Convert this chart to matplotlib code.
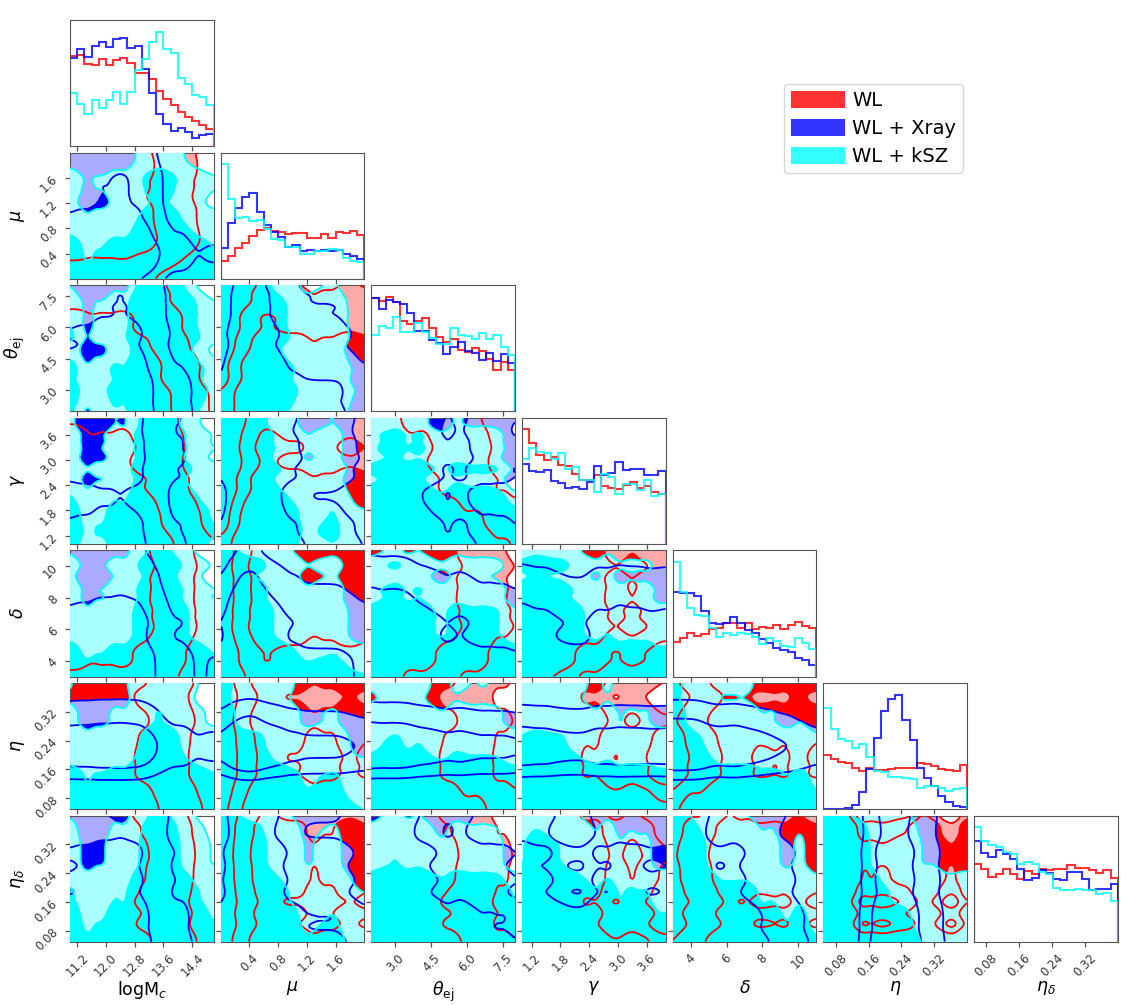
import numpy as np
import matplotlib
matplotlib.use("Agg")
import matplotlib.pyplot as plt
from matplotlib.patches import Patch

# ---------------- data ----------------
param_labels = [r'logM$_c$', r'$\mu$', r'$\theta_{\rm ej}$', r'$\gamma$',
                r'$\delta$', r'$\eta$', r'$\eta_\delta$']
param_ranges = [(11.0, 15.0), (0.0, 2.0), (2.0, 8.0), (1.0, 4.0),
                (3.0, 11.0), (0.05, 0.40), (0.05, 0.40)]
param_ticks = [[11.2, 12.0, 12.8, 13.6, 14.4],
               [0.4, 0.8, 1.2, 1.6],
               [3.0, 4.5, 6.0, 7.5],
               [1.2, 1.8, 2.4, 3.0, 3.6],
               [4, 6, 8, 10],
               [0.08, 0.16, 0.24, 0.32],
               [0.08, 0.16, 0.24, 0.32]]

dataset_names = ['WL', 'WL + Xray', 'WL + kSZ']

# marginal histograms (20 bins each, arbitrary units)
wl_hist = [
    [268, 270, 245, 240, 260, 240, 257, 263, 248, 218, 218, 200, 165, 140, 122, 100, 85, 75, 62, 50],
    [53, 68, 93, 108, 130, 146, 153, 143, 140, 136, 138, 138, 123, 123, 136, 123, 140, 138, 143, 133],
    [340, 332, 345, 328, 272, 262, 272, 280, 250, 225, 210, 218, 185, 178, 190, 182, 158, 125, 150, 125],
    [342, 302, 265, 250, 258, 235, 232, 208, 190, 190, 205, 172, 168, 165, 175, 185, 168, 172, 155, 150],
    [104, 117, 130, 122, 127, 142, 147, 160, 160, 145, 162, 144, 150, 147, 155, 142, 154, 164, 152, 147],
    [162, 150, 142, 137, 124, 114, 122, 117, 117, 119, 122, 122, 124, 137, 134, 130, 120, 117, 114, 132],
    [232, 217, 192, 200, 217, 200, 187, 209, 202, 217, 214, 216, 217, 227, 220, 220, 212, 204, 214, 189],
]
xray_hist = [
    [262, 287, 265, 298, 310, 295, 318, 322, 290, 298, 230, 158, 95, 65, 45, 55, 43, 25, 32, 35],
    [92, 168, 213, 246, 258, 200, 163, 140, 126, 95, 103, 83, 86, 83, 85, 83, 85, 73, 68, 58],
    [342, 308, 335, 328, 322, 295, 242, 242, 215, 205, 172, 195, 210, 182, 175, 155, 175, 153, 172, 145],
    [240, 218, 215, 222, 188, 182, 168, 170, 165, 185, 232, 205, 212, 245, 220, 223, 225, 207, 207, 218],
    [254, 252, 250, 242, 197, 160, 157, 160, 180, 160, 140, 130, 114, 102, 87, 80, 74, 57, 50, 36],
    [0, 0, 1, 3, 12, 52, 120, 214, 294, 332, 344, 267, 207, 122, 94, 70, 40, 20, 9, 6],
    [299, 262, 250, 272, 260, 244, 217, 182, 190, 214, 204, 187, 182, 207, 207, 185, 152, 157, 155, 170],
]
ksz_hist = [
    [158, 125, 95, 137, 112, 137, 162, 125, 160, 225, 260, 310, 340, 288, 275, 202, 185, 152, 145, 122],
    [345, 240, 183, 186, 173, 178, 151, 120, 116, 96, 96, 73, 73, 83, 83, 90, 88, 63, 53, 51],
    [230, 257, 252, 285, 238, 238, 265, 240, 220, 202, 202, 250, 230, 228, 218, 235, 218, 230, 195, 170],
    [252, 287, 275, 272, 252, 270, 225, 230, 190, 190, 155, 210, 200, 148, 180, 180, 162, 190, 142, 150],
    [344, 254, 207, 184, 182, 147, 120, 130, 124, 130, 127, 120, 99, 117, 107, 92, 90, 117, 100, 82],
    [304, 240, 210, 204, 182, 194, 157, 114, 110, 97, 97, 94, 89, 64, 70, 70, 62, 55, 60, 62],
    [340, 300, 287, 280, 267, 259, 232, 237, 232, 207, 202, 160, 154, 154, 155, 154, 152, 142, 144, 122],
]

# ---------------- style ----------------
line_colors = ['red', 'blue', 'cyan']
fill_colors = [['#ffaaaa', '#ff0000'], ['#aaaaff', '#0000ff'], ['#aaffff', '#00ffff']]
legend_colors = [(1, 0, 0, 0.8), (0, 0, 1, 0.8), (0, 1, 1, 0.8)]
hists = [wl_hist, xray_hist, ksz_hist]
spine_col = '#555555'
UPS = 4          # sub-cells per histogram bin for the 2-D density grid
SMOOTH = 3.0     # gaussian smoothing (in sub-cells) of the 2-D density

n = len(param_labels)
fig = plt.figure(figsize=(11.36, 10.05), dpi=100)
axes = fig.subplots(n, n)
fig.subplots_adjust(left=0.0616, right=0.9839, bottom=0.063, top=0.980,
                    wspace=0.049, hspace=0.052)


def edges_of(k):
    lo, hi = param_ranges[k]
    return np.linspace(lo, hi, len(wl_hist[k]) + 1)


def fine_coords(k):
    lo, hi = param_ranges[k]
    m = len(wl_hist[k]) * UPS
    c = lo + (np.arange(m) + 0.5) * (hi - lo) / m
    return np.concatenate([[lo], c, [hi]])


def smooth1d(a, axis, sigma):
    r = int(3 * sigma)
    k = np.exp(-0.5 * (np.arange(-r, r + 1) / sigma) ** 2)
    k /= k.sum()
    pad = [(0, 0), (0, 0)]
    pad[axis] = (r, r)
    ap = np.pad(a, pad, mode='edge')
    return np.apply_along_axis(lambda v: np.convolve(v, k, mode='valid'), axis, ap)


def density(hy, hx):
    P = np.outer(hy, hx)
    P = np.repeat(np.repeat(P, UPS, axis=0), UPS, axis=1)
    P = smooth1d(smooth1d(P, 0, SMOOTH), 1, SMOOTH)
    return np.pad(P, 1, mode='edge')


def sigma_levels(P):
    flat = np.sort(P[1:-1, 1:-1].ravel())[::-1]
    cum = np.cumsum(flat)
    cum = cum / cum[-1]
    out = []
    for q in (0.95, 0.68):
        idx = min(np.searchsorted(cum, q), len(flat) - 1)
        out.append(flat[idx])
    return out


for i in range(n):
    for j in range(n):
        ax = axes[i, j]
        if j > i:
            ax.set_axis_off()
            continue
        for sp in ax.spines.values():
            sp.set_color(spine_col)
        ax.tick_params(colors=spine_col, labelcolor='#333333', labelsize=8.5,
                       length=3.5, width=0.9)
        if i == j:
            e = edges_of(i)
            ymax = 0
            for d in range(3):
                vals = np.asarray(hists[d][i], dtype=float)
                ax.stairs(vals, e, color=legend_colors[d], linewidth=1.5)
                ymax = max(ymax, vals.max())
            ax.set_xlim(*param_ranges[i])
            ax.set_ylim(0, 1.1 * ymax)
            ax.set_yticks([])
            ax.set_xticks(param_ticks[i])
            if i < n - 1:
                ax.set_xticklabels([])
            else:
                for lab in ax.get_xticklabels():
                    lab.set_rotation(45)
                ax.set_xlabel(param_labels[i], fontsize=12.5)
                ax.xaxis.set_label_coords(0.5, -0.3)
            continue
        # off-diagonal: y param i, x param j
        xs = fine_coords(j)
        ys = fine_coords(i)
        fields = []
        for d in range(3):
            hx = np.asarray(hists[d][j], dtype=float)
            hy = np.asarray(hists[d][i], dtype=float)
            P = density(hy, hx)
            lv = sigma_levels(P)
            fields.append((P, lv))
            ax.contourf(xs, ys, P, levels=[lv[0], lv[1], P.max() * 1.01 + 1e-9],
                        colors=fill_colors[d], zorder=1 + d)
        for d in range(3):
            P, lv = fields[d]
            ax.contour(xs, ys, P, levels=lv, colors=line_colors[d],
                       linewidths=1.3, zorder=5 + d)
        ax.set_xlim(*param_ranges[j])
        ax.set_ylim(*param_ranges[i])
        ax.set_xticks(param_ticks[j])
        ax.set_yticks(param_ticks[i])
        if i < n - 1:
            ax.set_xticklabels([])
        else:
            for lab in ax.get_xticklabels():
                lab.set_rotation(45)
            ax.set_xlabel(param_labels[j], fontsize=12.5)
            ax.xaxis.set_label_coords(0.5, -0.3)
        if j > 0:
            ax.set_yticklabels([])
        else:
            for lab in ax.get_yticklabels():
                lab.set_rotation(45)
            ax.set_ylabel(param_labels[i], fontsize=12.5)
            ax.yaxis.set_label_coords(-0.3, 0.5)

handles = [Patch(facecolor=legend_colors[d], edgecolor='none', label=dataset_names[d])
           for d in range(3)]
fig.legend(handles=handles, loc='upper right', bbox_to_anchor=(963 / 1136, 1 - 84 / 1005),
           borderaxespad=0.0, borderpad=0.35, fontsize=14, handlelength=2.8,
           handleheight=1.0, handletextpad=0.35, labelspacing=0.45,
           frameon=True, fancybox=True, edgecolor='#cccccc')

fig.savefig('out.png', dpi=100)
